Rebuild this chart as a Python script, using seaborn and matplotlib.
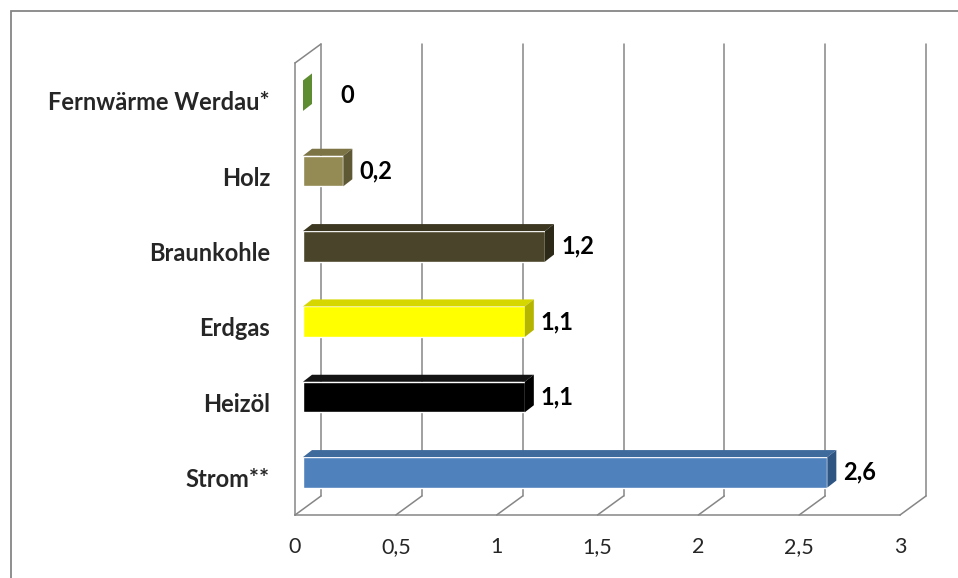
import matplotlib
matplotlib.use("Agg")
import matplotlib.pyplot as plt
import seaborn as sns
from matplotlib.transforms import ScaledTranslation, IdentityTransform
from matplotlib.patches import Polygon, Rectangle
from matplotlib.lines import Line2D

categories = ["Fernwärme Werdau*", "Holz", "Braunkohle", "Erdgas", "Heizöl", "Strom**"]
values = [0.0, 0.2, 1.2, 1.1, 1.1, 2.6]
value_labels = ["0", "0,2", "1,2", "1,1", "1,1", "2,6"]
x_ticks = [0, 0.5, 1, 1.5, 2, 2.5, 3]
x_tick_labels = ["0", "0,5", "1", "1,5", "2", "2,5", "3"]

front_colors = ["#5E8C31", "#948A54", "#4A452A", "#FFFF00", "#000000", "#4F81BD"]
top_colors = ["#4E7628", "#7D7446", "#3B3721", "#D6D600", "#141414", "#3E6A9C"]
side_colors = ["#5E8C31", "#5F5835", "#2C2918", "#B5B500", "#000000", "#2F5583"]

sns.set_style("white")
plt.rcParams["font.family"] = ["Lato", "DejaVu Sans"]

DPI = 100
W, H = 958, 578
fig = plt.figure(figsize=(W / DPI, H / DPI), dpi=DPI)
fig.patch.set_facecolor("white")
ax = fig.add_axes([295 / W, 63 / H, 605 / W, 452 / H])

GRAY = "#868686"

sns.barplot(x=values, y=categories, hue=categories, palette=front_colors,
            orient="h", width=0.405, saturation=1, legend=False, ax=ax,
            zorder=3)
ax.set_xlim(0, 3)
ax.set_ylim(len(categories) - 0.5, -0.5)

# bars sit in the middle of the depth
bar_off = (8, 5)
depth = (9, 7)
back = (26, 19)

bars = list(ax.patches)
for p, tc, sc in zip(bars, top_colors, side_colors):
    p.set_transform(ax.transData + ScaledTranslation(bar_off[0] / DPI, bar_off[1] / DPI, fig.dpi_scale_trans))
    x0, y0 = p.get_x(), p.get_y()
    w, h = p.get_width(), p.get_height()
    (L, b1), (R, b2) = ax.transData.transform([(x0, y0), (x0 + w, y0 + h)])
    L += bar_off[0]; R += bar_off[0]
    B = min(b1, b2) + bar_off[1]
    T = max(b1, b2) + bar_off[1]
    top = Polygon([(L, T), (R, T), (R + depth[0], T + depth[1]), (L + depth[0], T + depth[1])],
                  closed=True, transform=IdentityTransform(), facecolor=tc,
                  edgecolor="none", zorder=3, clip_on=False)
    side = Polygon([(R, B), (R, T), (R + depth[0], T + depth[1]), (R + depth[0], B + depth[1])],
                   closed=True, transform=IdentityTransform(), facecolor=sc,
                   edgecolor="none", zorder=3, clip_on=False)
    ax.add_artist(top)
    ax.add_artist(side)

# back wall gridlines and floor diagonals
ybot, ytop = len(categories) - 0.5, -0.5
def line(p1, p2):
    ax.add_artist(Line2D([p1[0], p2[0]], [p1[1], p2[1]], transform=IdentityTransform(),
                         color=GRAY, lw=1.1, zorder=1, clip_on=False))

for v in x_ticks:
    fb = ax.transData.transform((v, ybot))
    ft = ax.transData.transform((v, ytop))
    line((fb[0] + back[0], fb[1] + back[1]), (ft[0] + back[0], ft[1] + back[1]))
    line(fb, (fb[0] + back[0], fb[1] + back[1]))
lt = ax.transData.transform((0, ytop))
line(lt, (lt[0] + back[0], lt[1] + back[1]))

# value labels (Excel keeps the zero label a bit away from the axis)
for i, (v, lab) in enumerate(zip(values, value_labels)):
    gap = 16 if v > 0 else 37
    ax.annotate(lab, xy=(v, i), xytext=((bar_off[0] + gap) * 0.72, bar_off[1] * 0.72),
                textcoords="offset points", ha="left", va="center",
                fontsize=17, fontweight="bold", color="black", zorder=4)

# axes styling
for s in ["top", "right"]:
    ax.spines[s].set_visible(False)
for s in ["left", "bottom"]:
    ax.spines[s].set_color(GRAY)
    ax.spines[s].set_linewidth(1.1)
ax.set_xticks(x_ticks)
ax.set_xticklabels(x_tick_labels, fontsize=15.5)
ax.set_yticks(range(len(categories)))
ax.set_yticklabels(categories, fontsize=17, fontweight="bold")
ax.set_yticks([i - 0.5 for i in range(len(categories) + 1)], minor=True)
ax.tick_params(axis="x", length=5.8, width=1.1, color=GRAY, direction="out", pad=10)
ax.tick_params(axis="y", which="major", length=0, pad=18)
ax.tick_params(axis="y", which="minor", length=5.8, width=1.1, color=GRAY, direction="out")
ax.set_xlabel("")
ax.set_ylabel("")
ax.grid(False)
ax.set_facecolor("none")

# chart border
fig.add_artist(Rectangle((10.5 / W, -0.1), 2, 1 - 11 / H + 0.1, transform=fig.transFigure,
                         fill=False, edgecolor=GRAY, lw=1.3))

fig.savefig("out.png", dpi=DPI)
